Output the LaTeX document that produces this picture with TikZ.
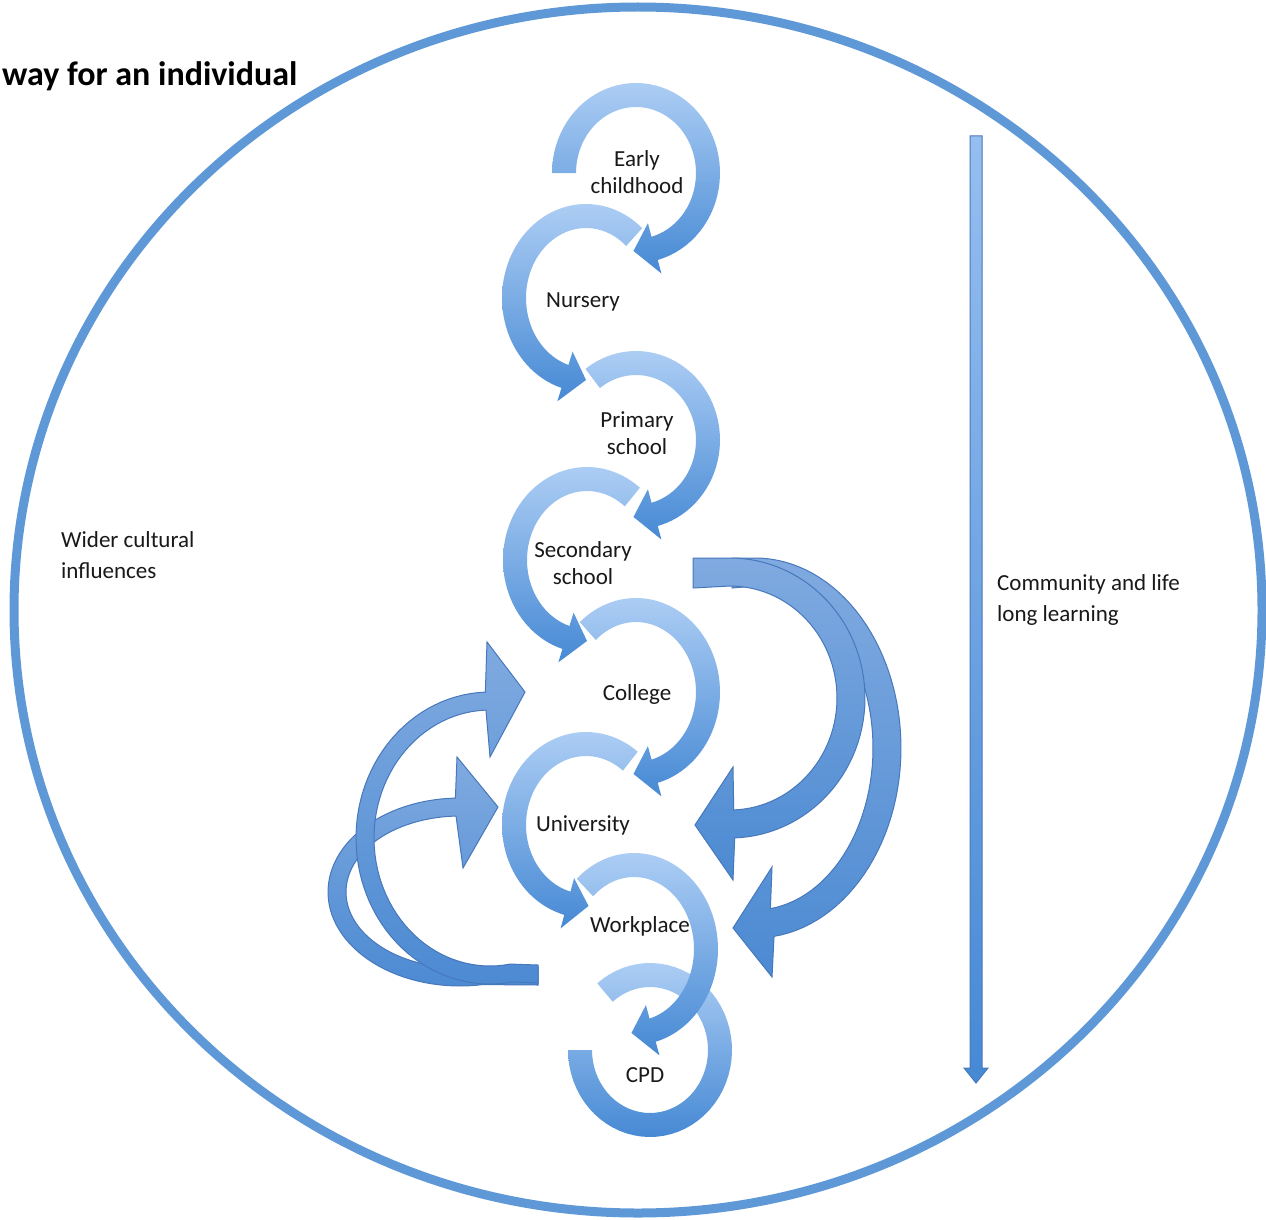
\documentclass[tikz,border=0pt]{standalone}
\usepackage{fontspec}
\setmainfont{Carlito}
\definecolor{cl}{RGB}{172,205,244}
\definecolor{cd}{RGB}{70,137,212}
\definecolor{rl}{RGB}{128,170,224}
\definecolor{rd}{RGB}{76,138,210}
\definecolor{ribd}{RGB}{72,120,188}
\definecolor{ringc}{RGB}{95,152,215}
\definecolor{vl}{RGB}{150,190,240}
\definecolor{txt}{RGB}{25,25,25}
\newcommand\cycarrow[7]{%
  \shade[top color=cl, bottom color=cd]
    plot[domain=#5:#6, samples=60] ({#1+(#3+12)*cos(\x)},{#2+(#4+12)*sin(\x)})
    -- ({#1+(#3+26)*cos(#6)},{#2+(#4+26)*sin(#6)})
    -- ({#1+#3*cos(#6+#7)},{#2+#4*sin(#6+#7)})
    -- ({#1+(#3-26)*cos(#6)},{#2+(#4-26)*sin(#6)})
    -- plot[domain=#6:#5, samples=60] ({#1+(#3-12)*cos(\x)},{#2+(#4-12)*sin(\x)})
    -- cycle;}
\newcommand\cycband[6]{%
  \shade[top color=cl, bottom color=cd]
    plot[domain=#5:#6, samples=60] ({#1+(#3+12)*cos(\x)},{#2+(#4+12)*sin(\x)})
    -- plot[domain=#6:#5, samples=60] ({#1+(#3-12)*cos(\x)},{#2+(#4-12)*sin(\x)})
    -- cycle;}
\tikzset{
  lab/.style={font=\fontsize{23}{27}\selectfont, text=txt, align=center, inner sep=0pt},
  sidelab/.style={font=\fontsize{23}{31}\selectfont, text=txt, align=left, inner sep=0pt, anchor=west},
  ribbon/.style={top color=rl, bottom color=rd, draw=ribd, line width=1pt},
  ringline/.style={draw=ringc, line width=9pt}
}
\begin{document}
\begin{tikzpicture}[x=1pt,y=-1pt]
\useasboundingbox (0,0) rectangle (1266,1220);
\fill[white] (0,0) rectangle (1266,1220);
\clip (0,0) rectangle (1266,1220);
% big ring
\draw[ringline] (638,610) ellipse[x radius=624, y radius=603];
% vertical arrow
\shade[top color=vl, bottom color=cd, draw=ribd, line width=1pt]
  (970,136) -- (982,136) -- (982,1068) -- (988,1068) -- (976,1083) -- (964,1068) -- (970,1068) -- cycle;
% circular arrows (bottom first)
\cycband{650}{1050}{70}{75}{230}{540}
\cycarrow{634}{949}{72}{84}{227}{435}{17}
\cycarrow{586}{825}{72}{81}{-52}{-255}{-17}
\cycarrow{636}{692}{72}{82}{228}{435}{17}
\cycarrow{587}{560}{72}{81}{-51}{-253}{-17}
\cycarrow{636}{440}{72}{77}{233}{435}{17}
\cycarrow{586}{298}{72}{82}{-48}{-253}{-17}
\cycarrow{636}{173}{72}{78}{180}{435}{17}
% right curved arrows
\shade[ribbon] (732,558) -- plot[domain=-90:82.5, samples=60] ({755+146*cos(\x)},{748+190*sin(\x)})
  -- (772,977) -- (733,928) -- (772,867)
  -- plot[domain=82.5:-90, samples=60] ({755+118*cos(\x)},{748+162*sin(\x)}) -- (732,588) -- cycle;
\shade[ribbon] (693,558) -- plot[domain=-90:88, samples=60] ({730+135*cos(\x)},{698+140*sin(\x)})
  -- (733,880) -- (695,825) -- (733,767)
  -- plot[domain=88:-90, samples=60] ({730+107*cos(\x)},{698+112*sin(\x)}) -- (693,588) -- cycle;
% left curved arrows
\shade[ribbon] (538,985) -- plot[domain=80:268, samples=60] ({460+132*cos(\x)},{892+94*sin(\x)})
  -- (457,757) -- (498,807) -- (463,868)
  -- plot[domain=268:80, samples=60] ({460+114*cos(\x)},{892+76*sin(\x)}) -- (538,967) -- cycle;
\shade[ribbon] (538,983) -- plot[domain=80:268, samples=60] ({490+134*cos(\x)},{838+146*sin(\x)})
  -- (487,642) -- (525,692) -- (490,757)
  -- plot[domain=268:80, samples=60] ({490+116*cos(\x)},{838+128*sin(\x)}) -- (538,965) -- cycle;
% labels
\node[font=\bfseries\fontsize{34}{38}\selectfont, text=black, anchor=base west, inner sep=0pt] (title) at (2,86) {way for an individual};
\node[lab] (early) at (637,172) {Early\\childhood};
\node[lab] (nursery) at (583,302) {Nursery};
\node[lab] (primary) at (637,433) {Primary\\school};
\node[lab] (secondary) at (583,563) {Secondary\\school};
\node[lab] (college) at (637,694) {College};
\node[lab] (university) at (583,825) {University};
\node[lab] (workplace) at (640,926) {Workplace};
\node[lab] (cpd) at (645,1075) {CPD};
\node[sidelab] (wider) at (61,555) {Wider cultural\\influences};
\node[sidelab] (community) at (997,600) {Community and life\\long learning};
\end{tikzpicture}
\end{document}
